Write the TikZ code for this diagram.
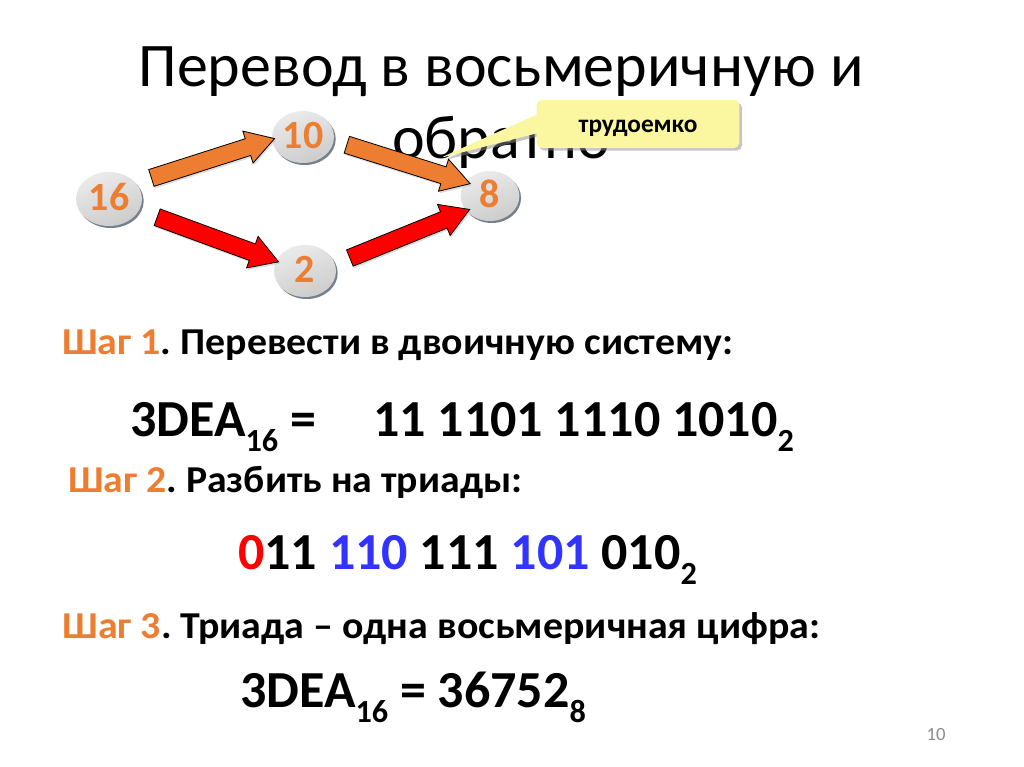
\documentclass[tikz,border=0pt]{standalone}
\usepackage{fontspec}
\setmainfont{Carlito}
\frenchspacing
\usetikzlibrary{calc,shapes.geometric,shapes.arrows,shapes.callouts,shadows}
\definecolor{steporange}{HTML}{ED7D31}
\definecolor{arrowred}{HTML}{FF0000}
\definecolor{triadblue}{HTML}{3333FF}
\definecolor{calloutfill}{HTML}{FBF7A0}
\definecolor{ballrim}{HTML}{5E6A7A}
\definecolor{pagegray}{HTML}{8C8C8C}
\newcommand\sbs[1]{\raisebox{-0.3em}{\scalebox{0.62}{#1}}}
\newcommand\fitw[2]{\resizebox{#1}{\height}{#2}}
\tikzset{
  numball/.style={
    ellipse,
    minimum width=46.5pt,
    minimum height=39pt,
    inner sep=0pt,
    text height=19pt,
    text depth=1.5pt,
    top color=black!8,
    bottom color=black!20,
    shading angle=20,
    drop shadow={shadow xshift=1.3pt,shadow yshift=-1.5pt,fill=ballrim,opacity=0.85},
    text=steporange,
    font=\bfseries\fontsize{30}{30}\selectfont
  },
  fatarrow/.style={
    single arrow,
    draw=black,
    line width=0.6pt,
    inner sep=6.3pt,
    single arrow head extend=6pt,
    single arrow tip angle=62,
    minimum height=97pt,
    drop shadow={shadow xshift=1pt,shadow yshift=-1.5pt,fill=black!25}
  },
  steptext/.style={anchor=base west,inner sep=0pt,font=\bfseries\fontsize{28.5}{32}\selectfont},
  eqtext/.style={anchor=base west,inner sep=0pt,font=\bfseries\fontsize{39}{44}\selectfont},
  titletext/.style={anchor=base,inner sep=0pt,font=\fontsize{46.5}{54}\selectfont}
}
% fat block arrow between two named nodes, optional shift of its middle
\newcommand\fatarr[4][0,0]{%
  \path let \p1=($(#3)-(#2)$), \n1={atan2(\y1,\x1)} in
    node[fatarrow,fill=#4,rotate=\n1] at ($(#2)!0.5!(#3)+(#1)$) {};
}
\begin{document}
\begin{tikzpicture}[x=0.75pt,y=-0.75pt]
  \useasboundingbox (0,0) rectangle (1024,767);
  \fill[white] (0,0) rectangle (1024,767);

  % title
  \node[titletext] (title1) at (501,86) {Перевод в восьмеричную и};
  \node[titletext] (title2) at (501,158) {обратно};

  % callout
  \coordinate (calltip) at (440,158);
  \node[rectangle callout,callout absolute pointer={(calltip)},callout pointer width=14pt,
    fill=calloutfill,rounded corners=4pt,minimum width=152pt,minimum height=36pt,
    text depth=0pt,
    drop shadow={shadow xshift=2pt,shadow yshift=-2pt,fill=black!45},
    font=\bfseries\fontsize{19}{21}\selectfont] (hard) at (638,124) {\raisebox{-3pt}{трудоемко}};

  % number systems
  \node[numball,minimum width=49.5pt,minimum height=40.5pt] (n16) at (109,199) {16};
  \node[numball] (n10) at (303,137) {10};
  \node[numball] (n2) at (305,271) {2};
  \node[numball,minimum width=44pt,minimum height=37.5pt] (n8) at (490,196) {8};

  \fatarr[0,-7.5]{n16}{n10}{steporange}
  \fatarr[5,-4.5]{n10}{n8}{steporange}
  \fatarr[4,2]{n16}{n2}{arrowred}
  \fatarr[5.5,3]{n2}{n8}{arrowred}

  % steps
  \node[steptext] (step1) at (62,354) {\fitw{503pt}{\textcolor{steporange}{Шаг 1}. Перевести в двоичную систему:}};
  \node[eqtext] (eq1a) at (130,436) {3DEA\sbs{16} =};
  \node[eqtext] (eq1b) at (373,436) {11 1101 1110 1010\sbs{2}};

  \node[steptext] (step2) at (68,492) {\fitw{340.5pt}{\textcolor{steporange}{Шаг 2}. Разбить на триады:}};
  \node[eqtext] (triads) at (238,569) {\textcolor{arrowred}{0}11 \textcolor{triadblue}{110} 111 \textcolor{triadblue}{101} 010\sbs{2}};

  \node[steptext] (step3) at (62,638) {\fitw{568.5pt}{\textcolor{steporange}{Шаг 3}. Триада – одна восьмеричная цифра:}};
  \node[eqtext] (eq3) at (240,707) {3DEA\sbs{16} = 36752\sbs{8}};

  % page number
  \node[text=pagegray,font=\fontsize{14}{16}\selectfont] (pagenum) at (936,734) {10};
\end{tikzpicture}
\end{document}
